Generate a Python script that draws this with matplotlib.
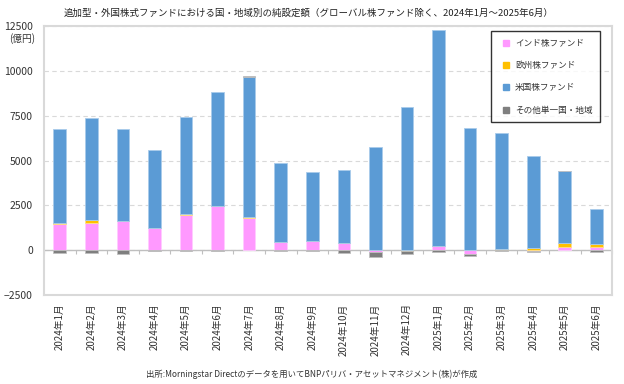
import numpy as np
import matplotlib
matplotlib.use("Agg")
import matplotlib.pyplot as plt
from matplotlib.lines import Line2D

plt.rcParams["font.family"] = ["Noto Sans CJK JP", "DejaVu Sans"]

months = [
    "2024年1月", "2024年2月", "2024年3月", "2024年4月", "2024年5月", "2024年6月",
    "2024年7月", "2024年8月", "2024年9月", "2024年10月", "2024年11月", "2024年12月",
    "2025年1月", "2025年2月", "2025年3月", "2025年4月", "2025年5月", "2025年6月",
]

# 億円
india = [1450, 1540, 1600, 1240, 1980, 2470, 1820, 480, 520, 410, -110, 0,
         260, -240, 0, -40, 190, 150]
europe = [60, 130, 30, 0, 30, 0, 40, 0, 0, 0, 0, -40,
          0, 0, 70, 130, 200, 190]
us = [5270, 5710, 5150, 4360, 5400, 6350, 7800, 4360, 3850, 4040, 5730, 8010,
      12030, 6800, 6490, 5110, 4020, 1980]
other = [-130, -130, -190, -60, -60, -50, 50, -20, -30, -170, -250, -170,
         -90, -110, -60, -60, 0, -120]

series = [
    ("インド株ファンド", india, "#FF99FF", "#FFCCFF"),
    ("欧州株ファンド", europe, "#FFC000", "#FFE08A"),
    ("米国株ファンド", us, "#5B9BD5", "#A9CBEB"),
    ("その他単一国・地域", other, "#7F7F7F", "#BFBFBF"),
]

title = "追加型・外国株式ファンドにおける国・地域別の純設定額（グローバル株ファンド除く、2024年1月～2025年6月）"
source = "出所:Morningstar Directのデータを用いてBNPパリバ・アセットマネジメント(株)が作成"

fig = plt.figure(figsize=(6.24, 3.84), dpi=100)
ax = fig.add_axes([0.0705, 0.2318, 0.9105, 0.7002])

x = np.arange(len(months))
pos_bottom = np.zeros(len(months))
neg_bottom = np.zeros(len(months))
for name, vals, color, edge in series:
    v = np.array(vals, dtype=float)
    bottom = np.where(v >= 0, pos_bottom, neg_bottom)
    ax.bar(x, v, width=0.4, bottom=bottom, color=color, edgecolor=edge,
           linewidth=0.6, zorder=3)
    pos_bottom += np.where(v > 0, v, 0)
    neg_bottom += np.where(v < 0, v, 0)

ax.set_xlim(-0.5, len(months) - 0.5)
ax.set_ylim(-2500, 12500)
ax.set_yticks(np.arange(-2500, 12501, 2500))
ax.yaxis.grid(True, linestyle=(0, (4, 3)), color="#D9D9D9", linewidth=0.8, zorder=0)
ax.axhline(0, color="#BFBFBF", linewidth=1.0, zorder=2)

ax.set_xticks(x)
ax.set_xticklabels(months, rotation=90, fontsize=7, color="#333333")
ax.tick_params(axis="x", length=0, pad=6)
ax.tick_params(axis="y", length=0, labelsize=7.5, labelcolor="#333333", pad=8)

# category boundary ticks along the zero line
sec = ax.secondary_xaxis(2500 / 15000)
sec.set_xticks(np.arange(-0.5, len(months), 1))
sec.set_xticklabels([])
sec.tick_params(axis="x", direction="out", length=3, color="#BFBFBF")
sec.spines["bottom"].set_visible(False)

for sp in ax.spines.values():
    sp.set_color("#D9D9D9")
    sp.set_linewidth(1.5)

ax.text(-0.015, 0.955, "(億円)", transform=ax.transAxes, ha="right", va="center",
        fontsize=7, color="#333333")

handles = [Line2D([], [], marker="s", linestyle="none", markersize=4,
                  markerfacecolor=c, markeredgecolor=c) for _, _, c, _ in series]
leg = ax.legend(handles, [s[0] for s in series], loc="upper left",
                bbox_to_anchor=(0.787, 0.981), fontsize=6.2, frameon=True,
                fancybox=False, edgecolor="black", labelspacing=1.55,
                borderpad=0.85, handletextpad=0.1, handlelength=1.8,
                borderaxespad=0)
leg.get_frame().set_linewidth(1.0)
for t in leg.get_texts():
    t.set_color("#333333")

fig.text(0.494, 0.965, title, ha="center", va="center", fontsize=6.8, color="#222222")
fig.text(0.499, 0.026, source, ha="center", va="center", fontsize=6.0, color="#333333")

fig.savefig("out.png", dpi=100)
